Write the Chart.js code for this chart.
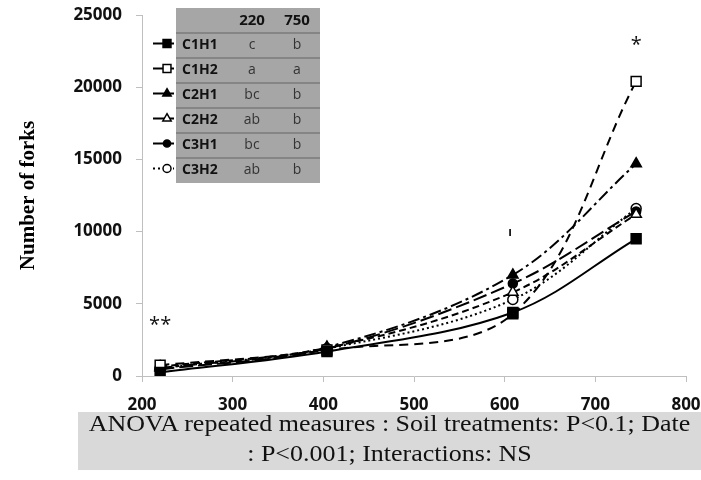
<!DOCTYPE html>
<html>
<head>
<meta charset="utf-8">
<script src="https://cdn.jsdelivr.net/npm/chart.js@4.4.1/dist/chart.umd.min.js"></script>
<style>
body { margin: 0; background: #fff; }
#wrap { position: relative; width: 701px; height: 480px; }
#anova { position: absolute; left: 78px; top: 412px; width: 623px; height: 58px; background: #d9d9d9; }
#anova div { font-family: 'Liberation Serif', 'Times New Roman', serif; font-size: 23px; line-height: 30px; text-align: center; white-space: nowrap; transform: scaleX(1.13); margin-top: -3px; color: #111; }
</style>
</head>
<body>
<div id="wrap">
<canvas id="ChartForks" width="701" height="480"></canvas>
<div id="anova"><div>ANOVA repeated measures : Soil treatments: P&lt;0.1; Date<br>: P&lt;0.001; Interactions: NS</div></div>
</div>
<script>
// sampling dates (x) and number of forks per treatment
var dates = [220, 404, 609, 745];
var C1H1 = [250, 1700, 4400, 9500];
var C1H2 = [750, 1800, 4300, 20400];
var C2H1 = [550, 2000, 7000, 14700];
var C2H2 = [650, 1950, 5800, 11200];
var C3H1 = [450, 1900, 6400, 11400];
var C3H2 = [550, 1900, 5300, 11600];

var treatments = ['C1H1', 'C1H2', 'C2H1', 'C2H2', 'C3H1', 'C3H2'];
var tableDates = ['220', '750'];
var letters220 = ['c', 'a', 'bc', 'ab', 'bc', 'ab'];
var letters750 = ['b', 'a', 'b', 'b', 'b', 'b'];

var xTicks = { min: 200, max: 800, step: 100 };
var yTicks = { min: 0, max: 25000, step: 5000 };

// significance marks (data coords)
var notes = [
    { x: 220, y: 3500, text: '**' },
    { x: 745, y: 22900, text: '*' },
    { x: 606, y: 9900, text: 'ı' }
];

var lineStyles = [
    { dash: [], point: 'rect', filled: true, radius: 7 },
    { dash: [9, 6], point: 'rect', filled: false, radius: 7 },
    { dash: [12, 4, 3, 4], point: 'triangle', filled: true, radius: 6 },
    { dash: [7, 4], point: 'triangle', filled: false, radius: 6 },
    { dash: [14, 5], point: 'circle', filled: true, radius: 4.5 },
    { dash: [2, 3], point: 'circle', filled: false, radius: 5 }
];

function MakeSet(index, values) {
    var st = lineStyles[index];
    return {
        label: treatments[index],
        data: values.map(function (v, i) { return { x: dates[i], y: v }; }),
        borderColor: '#000',
        borderWidth: 2,
        borderDash: st.dash,
        pointStyle: st.point,
        pointRadius: st.radius,
        pointBorderWidth: 1.5,
        pointBorderColor: '#000',
        pointBackgroundColor: st.filled ? '#000' : '#fff',
        tension: 0.35,
        fill: false
    };
}

var tablePlugin = {
    id: 'forkTable',
    afterDraw: function (chart) {
        var ctx = chart.ctx;
        var left = 176, top = 8, right = 320, headH = 25, rowH = 25;
        var col1 = 252, col2 = 297;
        var bottom = top + headH + rowH * treatments.length;
        ctx.save();
        ctx.fillStyle = '#a6a6a6';
        ctx.fillRect(left, top, right - left, bottom - top);
        ctx.strokeStyle = '#7a7a7a';
        ctx.lineWidth = 1.5;
        for (var r = 0; r < treatments.length; r++) {
            var ly = top + headH + rowH * r;
            ctx.beginPath();
            ctx.moveTo(left, ly);
            ctx.lineTo(right, ly);
            ctx.stroke();
        }
        ctx.fillStyle = '#111';
        ctx.textBaseline = 'middle';
        ctx.textAlign = 'center';
        ctx.font = 'bold 15px "Open Sans"';
        ctx.fillText(tableDates[0], col1, top + headH / 2);
        ctx.fillText(tableDates[1], col2, top + headH / 2);
        for (var i = 0; i < treatments.length; i++) {
            var cy = top + headH + rowH * (i + 0.5);
            ctx.fillStyle = '#111';
            ctx.textAlign = 'left';
            ctx.font = 'bold 14px "Open Sans"';
            ctx.fillText(treatments[i], 182, cy);
            ctx.fillStyle = '#333';
            ctx.textAlign = 'center';
            ctx.font = '14px "Open Sans"';
            ctx.fillText(letters220[i], col1, cy);
            ctx.fillText(letters750[i], col2, cy);

            // legend key
            var st = lineStyles[i];
            var my = cy - 2;
            ctx.strokeStyle = '#000';
            ctx.lineWidth = 2;
            ctx.setLineDash(i === 5 ? [2, 3] : []);
            ctx.beginPath();
            ctx.moveTo(153, my);
            ctx.lineTo(174, my);
            ctx.stroke();
            ctx.setLineDash([]);
            ctx.lineWidth = 1.5;
            ctx.fillStyle = st.filled ? '#000' : '#fff';
            Chart.helpers.drawPoint(ctx, {
                pointStyle: st.point, radius: st.radius * 0.8, rotation: 0, borderWidth: 1.5
            }, 167, my);
        }
        ctx.restore();
    },
    afterDatasetsDraw: function (chart) {
        var ctx = chart.ctx;
        var xs = chart.scales.x, ys = chart.scales.y;
        ctx.save();
        ctx.fillStyle = '#111';
        ctx.textAlign = 'center';
        ctx.textBaseline = 'middle';
        notes.forEach(function (n) {
            ctx.font = n.text === 'ı' ? 'bold 12px "Open Sans"' : '20px "Open Sans"';
            ctx.fillText(n.text, xs.getPixelForValue(n.x), ys.getPixelForValue(n.y));
        });
        ctx.restore();
    }
};

var tickFont = { family: 'Open Sans', weight: 'bold', size: 17 };

function PlainNumber(value) {
    return String(value);
}

new Chart(document.getElementById('ChartForks'), {
    type: 'line',
    data: {
        datasets: [
            MakeSet(0, C1H1),
            MakeSet(1, C1H2),
            MakeSet(2, C2H1),
            MakeSet(3, C2H2),
            MakeSet(4, C3H1),
            MakeSet(5, C3H2)
        ]
    },
    options: {
        responsive: false,
        animation: false,
        layout: { padding: { left: 0, top: 15, right: 15, bottom: 70 } },
        plugins: {
            legend: { display: false },
            tooltip: { enabled: false }
        },
        scales: {
            x: {
                type: 'linear',
                min: xTicks.min,
                max: xTicks.max,
                ticks: { stepSize: xTicks.step, font: tickFont, color: '#111', padding: 13, callback: PlainNumber },
                grid: { drawOnChartArea: false, tickLength: 6, color: '#bfbfbf' },
                border: { color: '#bfbfbf' },
                afterFit: function (s) { s.height = 34; s.paddingLeft = 0; s.paddingRight = 0; }
            },
            y: {
                min: yTicks.min,
                max: yTicks.max,
                ticks: { stepSize: yTicks.step, font: tickFont, color: '#111', padding: 14, callback: PlainNumber },
                grid: { drawOnChartArea: false, tickLength: 6, color: '#bfbfbf' },
                border: { color: '#bfbfbf' },
                title: {
                    display: true,
                    text: 'Number of forks',
                    color: '#000',
                    font: { family: 'Liberation Serif', weight: 'bold', size: 21 },
                    padding: { top: 16, bottom: 0 }
                },
                afterFit: function (s) { s.width = 142; s.paddingTop = 0; s.paddingBottom = 0; }
            }
        }
    },
    plugins: [tablePlugin]
});
</script>
</body>
</html>
